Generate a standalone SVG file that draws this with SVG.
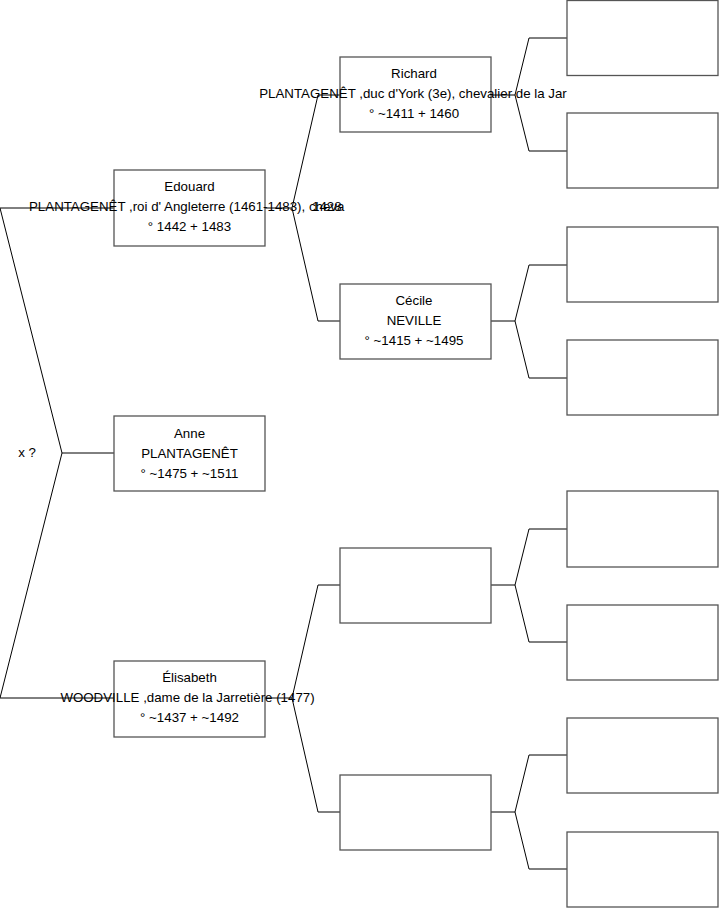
<svg xmlns="http://www.w3.org/2000/svg" width="719" height="908" viewBox="0 0 719 908">
<style>
.box{fill:#fff;stroke:#555;stroke-width:1.3}
.ln{fill:none;stroke:#000;stroke-width:1}
text{font-family:"Liberation Sans",Arial,sans-serif;font-size:13.3px;fill:#000;text-anchor:middle}
</style>
<rect width="719" height="908" fill="#fff"/>
<g id="connectors">
<polyline class="ln" points="114,208 0,208 62,453 0,698 114,698"/>
<line class="ln" x1="62" y1="453" x2="114" y2="453"/>
<polyline class="ln" points="265,208 292,208 318,95 340,95"/>
<polyline class="ln" points="292,208 318,321 340,321"/>
<polyline class="ln" points="265,698 292,698 318,585 340,585"/>
<polyline class="ln" points="292,698 318,812 340,812"/>
<polyline class="ln" points="491,95 515,95 529,38 567,38"/>
<polyline class="ln" points="515,95 529,151 567,151"/>
<polyline class="ln" points="491,321 515,321 529,265 567,265"/>
<polyline class="ln" points="515,321 529,378 567,378"/>
<polyline class="ln" points="491,585 515,585 529,529 567,529"/>
<polyline class="ln" points="515,585 529,642 567,642"/>
<polyline class="ln" points="491,812 515,812 529,755 567,755"/>
<polyline class="ln" points="515,812 529,869 567,869"/>
<text x="27" y="457">x ?</text>
</g>
<g id="edouard">
<rect class="box" x="114" y="170" width="151" height="76"/>
<text x="189.5" y="191">Edouard</text>
<text x="29" y="211" style="text-anchor:start">PLANTAGENÊT ,roi d' Angleterre (1461-1483), cheva</text>
<text x="312" y="211" style="text-anchor:start">1428</text>
<text x="189.5" y="231">° 1442 + 1483</text>
</g>
<g id="anne">
<rect class="box" x="114" y="416" width="151" height="75"/>
<text x="189.5" y="438">Anne</text>
<text x="189.5" y="458">PLANTAGENÊT</text>
<text x="189.5" y="478">° ~1475 + ~1511</text>
</g>
<g id="elisabeth">
<rect class="box" x="114" y="661" width="151" height="76"/>
<text x="189.5" y="682">Élisabeth</text>
<text x="187.5" y="702">WOODVILLE ,dame de la Jarretière (1477)</text>
<text x="189.5" y="722">° ~1437 + ~1492</text>
</g>
<g id="richard">
<rect class="box" x="340" y="57" width="151" height="75"/>
<text x="414" y="78">Richard</text>
<text x="413" y="98">PLANTAGENÊT ,duc d'York (3e), chevalier de la Jar</text>
<text x="414" y="118">° ~1411 + 1460</text>
</g>
<g id="cecile">
<rect class="box" x="340" y="284" width="151" height="75"/>
<text x="414" y="305">Cécile</text>
<text x="414" y="325">NEVILLE</text>
<text x="414" y="345">° ~1415 + ~1495</text>
</g>
<g id="blank1"><rect class="box" x="340" y="548" width="151" height="75"/></g>
<g id="blank2"><rect class="box" x="340" y="775" width="151" height="75"/></g>
<g id="g3a"><rect class="box" x="567" y="0.5" width="151" height="75"/></g>
<g id="g3b"><rect class="box" x="567" y="113" width="151" height="75"/></g>
<g id="g3c"><rect class="box" x="567" y="227" width="151" height="75"/></g>
<g id="g3d"><rect class="box" x="567" y="340" width="151" height="75"/></g>
<g id="g3e"><rect class="box" x="567" y="491" width="151" height="76"/></g>
<g id="g3f"><rect class="box" x="567" y="605" width="151" height="75"/></g>
<g id="g3g"><rect class="box" x="567" y="718" width="151" height="75"/></g>
<g id="g3h"><rect class="box" x="567" y="832" width="151" height="75"/></g>
</svg>
